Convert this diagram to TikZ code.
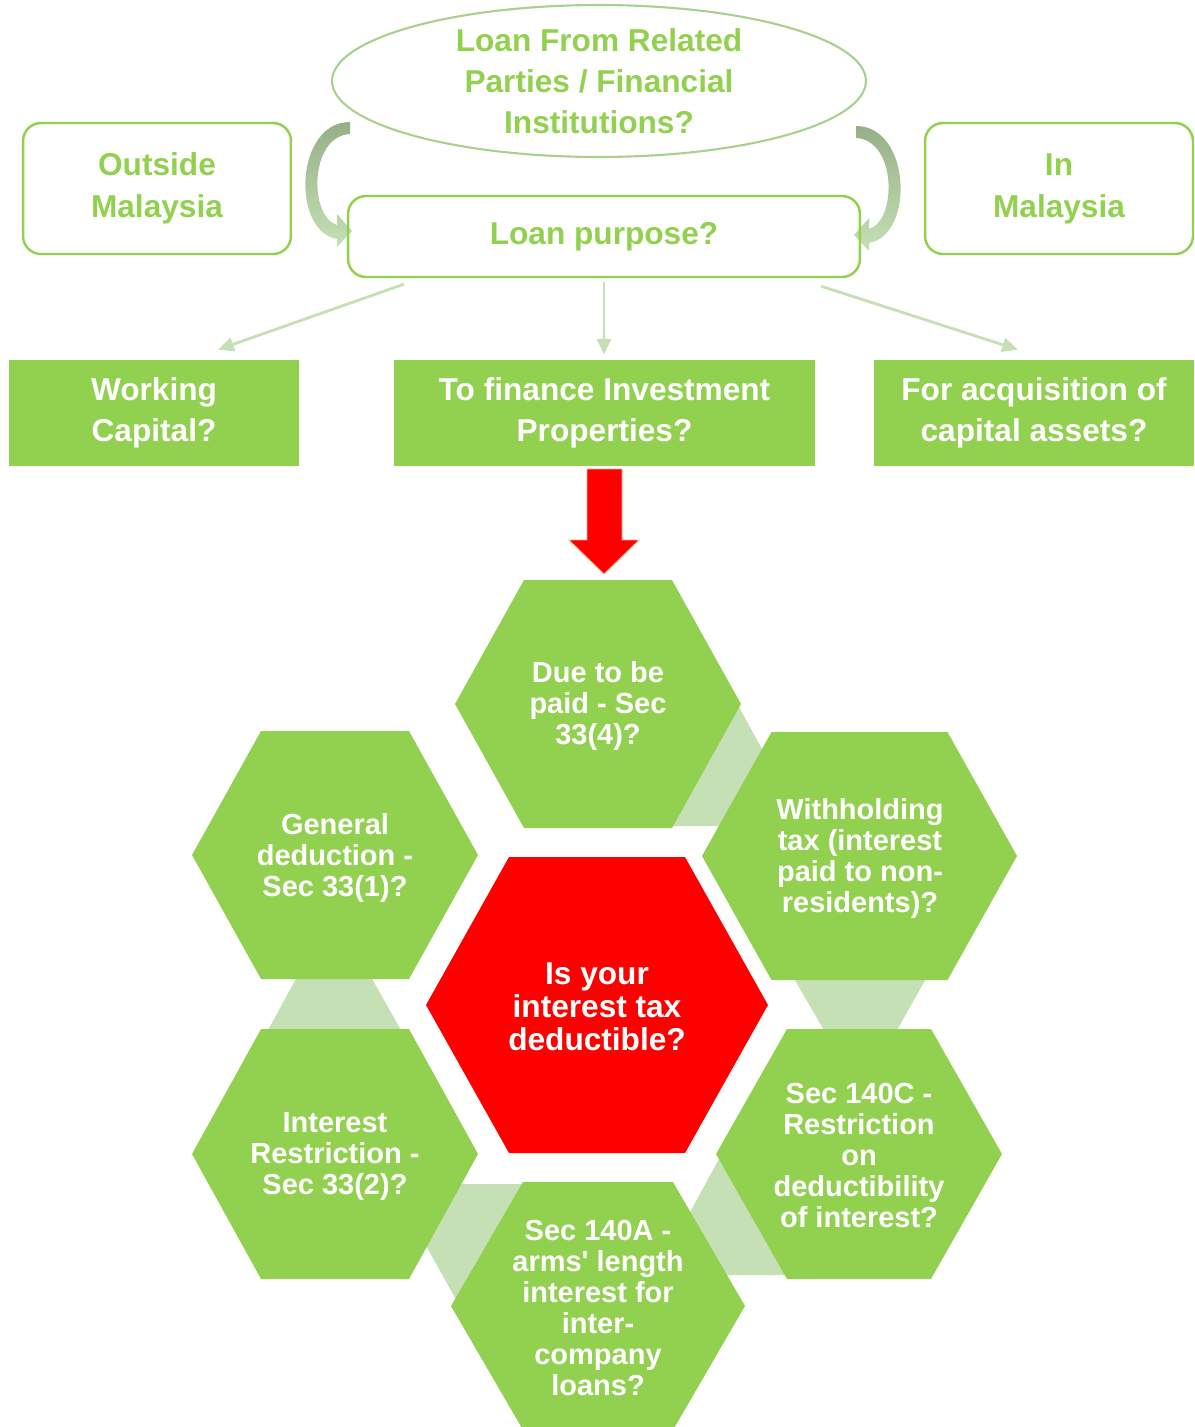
\documentclass[tikz,border=0pt]{standalone}
\usepackage{fontspec}
\setmainfont{Liberation Sans}
\usepackage{xcolor}
\usetikzlibrary{arrows.meta}
\usetikzlibrary{shapes,backgrounds}

\definecolor{leaf}{HTML}{92D050}
\definecolor{pale}{HTML}{C5E0B4}
\definecolor{rim}{HTML}{A9D18E}
\definecolor{moss}{HTML}{97AF87}
\definecolor{salmon}{HTML}{F4B183}

% centre x, centre y, half width, half height, half top edge, colour
\newcommand{\hexcell}[6]{\fill[#6] ({#1-#3},{#2}) -- ({#1-#5},{#2-#4}) -- ({#1+#5},{#2-#4}) -- ({#1+#3},{#2}) -- ({#1+#5},{#2+#4}) -- ({#1-#5},{#2+#4}) -- cycle;}

\begin{document}
\begin{tikzpicture}[x=0.02cm, y=-0.02cm]
        \tikzstyle{frame}=[draw=leaf, line width=1.4pt, rounded corners=0.36cm, text=leaf, align=center, font=\fontsize{18}{23.8}\selectfont\bfseries]
        \tikzstyle{block}=[fill=leaf, text=white, align=center, font=\fontsize{18}{23.3}\selectfont\bfseries, minimum height=2.12cm]
        \tikzstyle{cell}=[text=white, align=center, font=\fontsize{16.5}{17.6}\selectfont\bfseries, inner sep=0pt, yshift=-1.6pt]
        \tikzstyle{conn}=[draw=pale, line width=1.6pt, -{Triangle[length=9pt,width=8pt]}]
        \useasboundingbox (0,0) rectangle (1195,1427);

        % top part
        \draw node at (599,81) [ellipse, draw=rim, line width=1.2pt, minimum width=10.68cm, minimum height=3.04cm] (loan) {};
        \draw node at (loan.center) [text=leaf, align=center, font=\fontsize{18}{23.3}\selectfont\bfseries] (loantext) {Loan From Related\\Parties / Financial\\Institutions?};
        \shade[top color=moss, middle color=pale, bottom color=pale] (350,122) .. controls (295,122) and (291,231) .. (337,239) -- (337,247) -- (352,231) -- (337,214) -- (337,225) .. controls (309,217) and (309,136) .. (350,134) -- cycle;
        \shade[top color=moss, middle color=pale, bottom color=pale] (856,126) .. controls (911,126) and (915,235) .. (869,243) -- (869,251) -- (854,235) -- (869,218) -- (869,229) .. controls (897,221) and (897,140) .. (856,138) -- cycle;
        \draw node at (157,188.5) [frame, minimum width=5.36cm, minimum height=2.62cm] (outside) {Outside\\Malaysia};
        \draw node at (1059,188.5) [frame, minimum width=5.36cm, minimum height=2.62cm] (inside) {In\\Malaysia};
        \draw node at (604,236.5) [frame, minimum width=10.24cm, minimum height=1.62cm] (purpose) {Loan purpose?};

        \draw node at (154,413) [block, minimum width=5.8cm] (working) {Working\\Capital?};
        \draw node at (604.5,413) [block, minimum width=8.42cm] (finance) {To finance Investment\\Properties?};
        \draw node at (1034,413) [block, minimum width=6.4cm] (assets) {For acquisition of\\capital assets?};

        \draw [conn] ([shift={(57,6)}]purpose.south west) to ([shift={(64,-10)}]working.north);
        \draw [conn] ([shift={(0,4)}]purpose.south) to ([shift={(-0.5,-5)}]finance.north);
        \draw [conn] ([shift={(-40,8)}]purpose.south east) to ([shift={(-16,-10)}]assets.north);

        \filldraw [fill=red, draw=salmon, line width=0.5pt] (587,469) -- (622,469) -- (622,540) -- (639,540) -- (604,574) -- (569,540) -- (587,540) -- cycle;

        % links between the cells
        \fill[pale] (739,707) -- (790,800) -- (790,826) -- (660,826) -- cycle;
        \fill[pale] (792,975) -- (928,975) -- (896,1032) -- (825,1032) -- cycle;
        \fill[pale] (298,975) -- (370,975) -- (402,1032) -- (267,1032) -- cycle;
        \fill[pale] (440,1184) -- (560,1184) -- (560,1330) -- (473,1330) -- (400,1199) -- cycle;
        \fill[pale] (720,1157) -- (800,1157) -- (800,1275) -- (650,1275) -- (676,1238) -- cycle;

        % cells
        \hexcell{598}{704}{143}{124}{74}{leaf}
        \hexcell{335}{855}{143}{124}{74}{leaf}
        \hexcell{859.5}{856}{157.5}{124}{88}{leaf}
        \hexcell{335}{1154}{143}{125}{74}{leaf}
        \hexcell{859}{1154}{143}{125}{72}{leaf}
        \hexcell{598}{1306}{147}{124}{75}{leaf}
        \hexcell{597}{1005}{171}{148}{88}{red}

        \draw node at (598,703) [cell] (due) {Due to be\\paid - Sec\\33(4)?};
        \draw node at (335,855) [cell] (general) {General\\deduction -\\Sec 33(1)?};
        \draw node at (860,856) [cell] (withholding) {Withholding\\tax (interest\\paid to non-\\residents)?};
        \draw node at (335,1154) [cell] (restriction) {Interest\\Restriction -\\Sec 33(2)?};
        \draw node at (859,1153) [cell] (sec140c) {Sec 140C -\\Restriction\\on\\deductibility\\of interest?};
        \draw node at (598,1305) [cell] (sec140a) {Sec 140A -\\arms\textquotesingle{} length\\interest for\\inter-\\company\\loans?};
        \draw node at (597,1004) [cell, font=\fontsize{18}{18.8}\selectfont\bfseries] (deductible) {Is your\\interest tax\\deductible?};
\end{tikzpicture}
\end{document}
